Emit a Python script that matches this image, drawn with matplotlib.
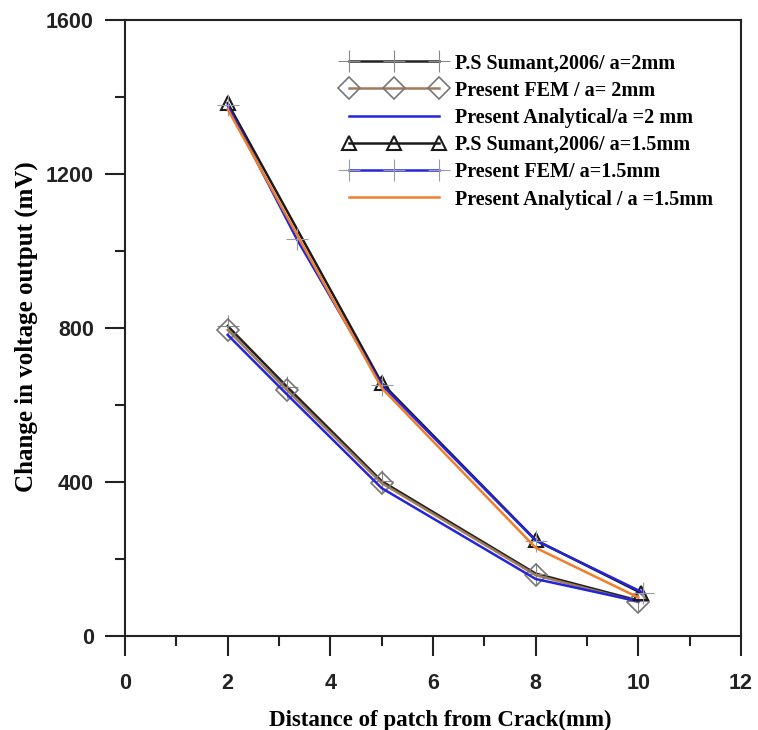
import matplotlib
matplotlib.use("Agg")
import matplotlib.pyplot as plt
from matplotlib.ticker import MultipleLocator

# distance of patch from crack (mm)
x_sum2 = [2, 3.15, 5, 8, 10]
x_fem2 = [2, 3.15, 5, 8, 10]
x_ana2 = [2, 3.15, 5, 8, 10]
x_sum15 = [2, 5, 8, 10.05]
x_fem15 = [2, 3.35, 5, 8, 10.1]
x_ana15 = [2, 5, 8, 10]

# change in voltage output (mV)
y_sum2 = [805, 648, 402, 162, 92]
y_fem2 = [795, 639, 397, 158, 88]
y_ana2 = [782, 628, 384, 148, 90]
y_sum15 = [1384, 657, 249, 112]
y_fem15 = [1378, 1030, 652, 248, 112]
y_ana15 = [1368, 644, 229, 100]

labels = ["P.S Sumant,2006/ a=2mm", "Present FEM / a= 2mm",
          "Present Analytical/a =2 mm", "P.S Sumant,2006/ a=1.5mm",
          "Present FEM/ a=1.5mm", "Present Analytical / a =1.5mm"]

fig = plt.figure(figsize=(7.58, 7.3), dpi=100)
ax = fig.add_axes([0.165, 0.1288, 0.8126, 0.8438])

ax.plot(x_sum2, y_sum2, color="#222222", lw=1.8, marker="+", ms=16,
        mew=0.8, mec="#888888", label=labels[0])
ax.plot(x_fem2, y_fem2, color="#a07c5a", lw=1.8, marker="D", ms=11,
        mfc="none", mec="#777777", mew=1.2, label=labels[1])
ax.plot(x_ana2, y_ana2, color="#2424dc", lw=1.8, label=labels[2])
ax.plot(x_sum15, y_sum15, color="#1a1a1a", lw=1.8, marker="^", ms=10,
        mfc="none", mec="#1a1a1a", mew=1.5, label=labels[3])
ax.plot(x_fem15, y_fem15, color="#2424dc", lw=1.8, marker="+", ms=16,
        mew=0.8, mec="#9999aa", label=labels[4])
ax.plot(x_ana15, y_ana15, color="#f07f2a", lw=1.8, label=labels[5])

ax.set_xlim(0, 12)
ax.set_ylim(0, 1600)
ax.xaxis.set_major_locator(MultipleLocator(2))
ax.xaxis.set_minor_locator(MultipleLocator(1))
ax.yaxis.set_major_locator(MultipleLocator(400))
ax.yaxis.set_minor_locator(MultipleLocator(200))

for s in ax.spines.values():
    s.set_linewidth(1.5)
    s.set_color("#222222")
ax.tick_params(which="major", direction="out", length=14.5, width=1.5, color="#222222")
ax.tick_params(which="minor", direction="out", length=7.5, width=1.5, color="#222222")
ax.tick_params(axis="y", pad=8)
ax.tick_params(axis="x", pad=12)

for lab in ax.get_xticklabels() + ax.get_yticklabels():
    lab.set_fontfamily("Liberation Sans")
    lab.set_fontweight("bold")
    lab.set_fontsize(15.5)
    lab.set_color("#222222")

ax.set_xlabel("Distance of patch from Crack(mm)",
              fontdict={"family": "Liberation Serif", "weight": "bold", "size": 16.5})
ax.set_ylabel("Change in voltage output (mV)",
              fontdict={"family": "Liberation Serif", "weight": "bold", "size": 18})
ax.xaxis.set_label_coords(0.511, -0.120)
ax.yaxis.set_label_coords(-0.141, 0.503)

leg = ax.legend(loc="upper left", bbox_to_anchor=(0.354, 0.946), frameon=False,
                numpoints=3, handlelength=5.07, handletextpad=0.5,
                labelspacing=0.36, borderpad=0, borderaxespad=0,
                prop={"family": "Liberation Serif", "weight": "bold", "size": 14.5})

fig.savefig("out.png", dpi=100)
